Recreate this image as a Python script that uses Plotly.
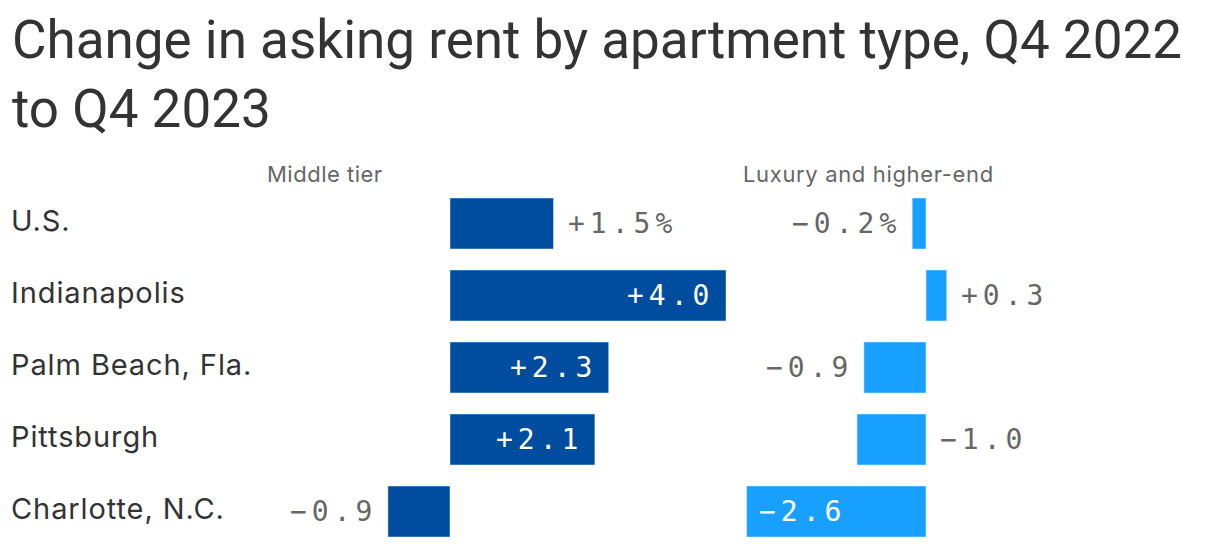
import plotly.graph_objects as go

rows = ["U.S.", "Indianapolis", "Palm Beach, Fla.", "Pittsburgh", "Charlotte, N.C."]
middle_tier = [1.5, 4.0, 2.3, 2.1, -0.9]
luxury = [-0.2, 0.3, -0.9, -1.0, -2.6]
# label placement per bar: "in" inside bar end, "out" beyond bar end, "zero" on the far side of zero
middle_label_pos = ["out", "in", "in", "in", "out"]
luxury_label_pos = ["out", "out", "out", "zero", "in"]

title_line1 = "Change in asking rent by apartment type, Q4 2022"
title_line2 = "to Q4 2023"
middle_title = "Middle tier"
luxury_title = "Luxury and higher-end"

W, H = 1220, 548
OFF = 8   # page body margin
PAD = 3   # annotation inner padding
SCALE = 69.0  # px per percentage point
MID_ZERO, LUX_ZERO = 450 - OFF, 926 - OFF

DARK = "#004C9F"
LIGHT = "#17A0FF"
GREY = "#666666"
TEXT = "#333333"
SANS = "Inter, Roboto, sans-serif"
TITLE_FONT = "Roboto, sans-serif"
MONO = "DejaVu Sans Mono, monospace"

def spaced(s, px):
    return f'<span style="letter-spacing:{px}px">{s}</span>'

def fmt(v, first):
    sign = "+" if v > 0 else "\u2212"
    s = f"{sign}{abs(v):.1f}" + ("%" if first else "")
    return spaced(s, 5)

fig = go.Figure()
fig.add_trace(go.Bar(x=middle_tier, y=rows, orientation="h", marker_color=DARK,
                     width=0.708, xaxis="x", yaxis="y", hoverinfo="skip"))
fig.add_trace(go.Bar(x=luxury, y=rows, orientation="h", marker_color=LIGHT,
                     width=0.708, xaxis="x2", yaxis="y", hoverinfo="skip"))

ann = []
for series, poss, xref in [(middle_tier, middle_label_pos, "x"), (luxury, luxury_label_pos, "x2")]:
    for i, (v, p) in enumerate(zip(series, poss)):
        if p == "in":
            anchor = "right" if v > 0 else "left"
            shift = -10 if v > 0 else 10
            color = "white"
            xv = v
        elif p == "out":
            anchor = "left" if v > 0 else "right"
            shift = 12 if v > 0 else -9
            color = GREY
            xv = v
        else:
            anchor = "left" if v < 0 else "right"
            shift = 12 if v < 0 else -9
            color = GREY
            xv = 0
        ann.append(dict(x=xv, y=rows[i], xref=xref, yref="y", text=fmt(v, i == 0),
                        showarrow=False, xanchor=anchor, yanchor="middle", xshift=shift,
                        font=dict(family=MONO, size=28, color=color)))

for r in rows:
    ann.append(dict(x=(12 - OFF - PAD) / W, y=r, xref="paper", yref="y", text=spaced(r, 0.9),
                    showarrow=False, xanchor="left", yanchor="middle", yshift=3,
                    font=dict(family=SANS, size=29, color=TEXT)))

sub_y = 1 - (174 - OFF) / H
ann.append(dict(x=(268 - OFF - PAD) / W, y=sub_y, xref="paper", yref="paper",
                text=spaced(middle_title, 0.5),
                showarrow=False, xanchor="left", yanchor="middle",
                font=dict(family=SANS, size=22, color=GREY)))
ann.append(dict(x=(744 - OFF - PAD) / W, y=sub_y, xref="paper", yref="paper",
                text=spaced(luxury_title, 0.65),
                showarrow=False, xanchor="left", yanchor="middle",
                font=dict(family=SANS, size=22, color=GREY)))
ann.append(dict(x=(10 - OFF) / W, y=1 + 1 / H, xref="paper", yref="paper", text=title_line1,
                showarrow=False, xanchor="left", yanchor="top", align="left",
                font=dict(family=TITLE_FONT, size=53, color=TEXT)))
ann.append(dict(x=(10 - OFF) / W, y=1 - 68 / H, xref="paper", yref="paper", text=title_line2,
                showarrow=False, xanchor="left", yanchor="top", align="left",
                font=dict(family=TITLE_FONT, size=53, color=TEXT)))

pitch = 72.0
r0 = -(223.5 - OFF) / pitch
r1 = r0 + H / pitch

fig.update_layout(
    width=W, height=H, margin=dict(l=0, r=0, t=0, b=0),
    paper_bgcolor="white", plot_bgcolor="white",
    showlegend=False, barmode="overlay",
    xaxis=dict(range=[-MID_ZERO / SCALE, (W - MID_ZERO) / SCALE], visible=False, fixedrange=True),
    xaxis2=dict(range=[-LUX_ZERO / SCALE, (W - LUX_ZERO) / SCALE], visible=False,
                overlaying="x", fixedrange=True),
    yaxis=dict(type="category", categoryarray=rows, range=[r1, r0], visible=False, fixedrange=True),
    annotations=ann,
)
fig.write_html("out.html", config={"displayModeBar": False})
